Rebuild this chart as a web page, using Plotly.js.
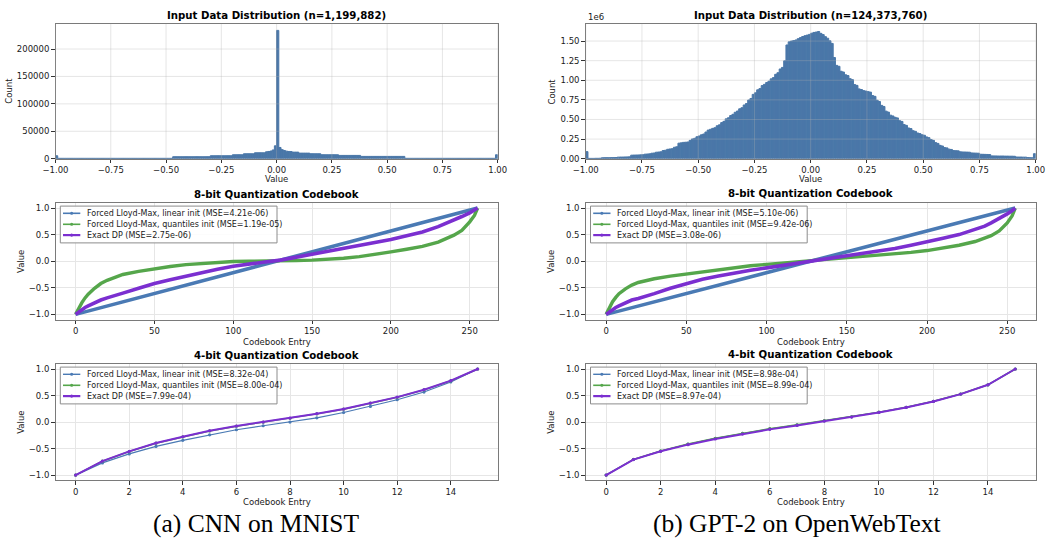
<!DOCTYPE html>
<html><head><meta charset="utf-8">
<script src="https://cdn.plot.ly/plotly-3.0.1.min.js"></script>
<style>html,body{margin:0;padding:0;background:#fff;}#chart{width:1047px;height:541px;}</style>
</head><body><div id="chart"></div>
<script>
// ---------------- DATA ----------------
const histBinStart = -1.0;
const histBinWidth = 0.01;
const histXTicks = [-1, -0.75, -0.5, -0.25, 0, 0.25, 0.5, 0.75, 1];
const mnistYTicks = [0, 50000, 100000, 150000, 200000];
const gptYTicks = [0, 0.25, 0.5, 0.75, 1.0, 1.25, 1.5];

// CNN on MNIST histogram counts (200 bins of width 0.01 from -1 to 1)
const mnistCounts = [
 5400,700,700,700,700,700,700,700,700,700,
 700,700,700,700,700,700,700,700,700,700,
 700,700,700,700,700,700,700,700,700,700,
 700,700,700,700,700,700,700,700,700,700,
 700,700,700,700,700,700,700,700,700,700,
 700,700,700,3600,3600,3600,3600,3600,3600,3600,
 3600,3600,3600,3600,3600,3600,3600,3600,3600,3600,
 5400,5400,5400,5400,5400,5400,5400,5400,5400,5400,
 7200,7200,7200,7200,7200,9000,9000,9000,9000,9000,
 10800,10800,10800,10800,10800,12600,13200,14000,16000,23500,
 234000,20500,16500,15000,13800,13200,13000,12000,12000,12000,
 10200,10200,10200,10200,10200,9000,9000,9000,9000,9000,
 7200,7200,7200,7200,7200,7200,7200,7200,6000,6000,
 6000,6000,6000,6000,6000,6000,6000,6000,4200,4200,
 4200,4200,4200,4200,4200,4200,4200,4200,4200,4200,
 4200,4200,4200,4200,4200,4200,4200,4200,700,700,
 700,700,700,700,700,700,700,700,700,700,
 700,700,700,700,700,700,700,700,700,700,
 700,700,700,700,700,700,700,700,700,700,
 700,700,700,700,700,700,700,700,700,7200
];

// GPT-2 on OpenWebText histogram counts, in millions (200 bins of width 0.01)
const gptCountsM = [
 0.090,0.004,0.004,0.004,0.005,0.005,0.006,0.012,0.013,0.013,
 0.013,0.014,0.014,0.015,0.020,0.021,0.021,0.022,0.023,0.024,
 0.045,0.046,0.047,0.048,0.049,0.050,0.058,0.060,0.062,0.070,
 0.073,0.083,0.085,0.088,0.104,0.108,0.120,0.124,0.128,0.146,
 0.152,0.198,0.202,0.208,0.210,0.213,0.234,0.252,0.260,0.280,
 0.290,0.305,0.315,0.340,0.365,0.375,0.387,0.395,0.420,0.432,
 0.460,0.476,0.508,0.522,0.550,0.566,0.592,0.608,0.636,0.650,
 0.685,0.703,0.748,0.768,0.820,0.840,0.878,0.894,0.932,0.948,
 0.972,0.988,1.018,1.034,1.076,1.096,1.144,1.164,1.248,1.450,
 1.490,1.500,1.506,1.514,1.530,1.544,1.558,1.568,1.576,1.585,
 1.600,1.610,1.615,1.622,1.598,1.582,1.556,1.536,1.503,1.470,
 1.290,1.190,1.178,1.115,1.105,1.070,1.060,1.020,1.008,0.945,
 0.935,0.890,0.882,0.868,0.862,0.855,0.849,0.805,0.795,0.745,
 0.729,0.680,0.666,0.606,0.594,0.555,0.545,0.528,0.520,0.485,
 0.475,0.435,0.425,0.392,0.384,0.357,0.349,0.328,0.320,0.305,
 0.299,0.278,0.268,0.244,0.234,0.205,0.195,0.170,0.162,0.142,
 0.138,0.122,0.118,0.104,0.102,0.100,0.088,0.086,0.085,0.084,
 0.083,0.074,0.072,0.071,0.070,0.057,0.056,0.055,0.054,0.053,
 0.036,0.035,0.035,0.034,0.034,0.034,0.033,0.033,0.032,0.032,
 0.031,0.022,0.021,0.021,0.020,0.020,0.014,0.013,0.012,0.064
];

const methodNames = ['Forced Lloyd-Max, linear init', 'Forced Lloyd-Max, quantiles init', 'Exact DP'];
const mnist8Mse = ['4.21e-06', '1.19e-05', '2.75e-06'];
const gpt8Mse = ['5.10e-06', '9.42e-06', '3.08e-06'];
const mnist4Mse = ['8.32e-04', '8.00e-04', '7.99e-04'];
const gpt4Mse = ['8.98e-04', '8.99e-04', '8.97e-04'];

// 8-bit codebooks (values read at these codebook entries)
const codeIdx8 = [0,2,4,6,8,12,16,20,25,30,40,50,60,70,80,90,100,110,120,130,140,150,160,170,180,190,200,210,220,230,236,240,245,250,253,255];
const mnist8Linear = [-1.000,-0.984,-0.969,-0.953,-0.937,-0.906,-0.875,-0.843,-0.804,-0.765,-0.686,-0.608,-0.529,-0.451,-0.373,-0.294,-0.216,-0.137,-0.059,0.020,0.098,0.176,0.255,0.333,0.412,0.490,0.569,0.647,0.725,0.804,0.851,0.882,0.922,0.961,0.984,1.000];
const mnist8Quantile = [-1.000,-0.88,-0.78,-0.69,-0.62,-0.51,-0.42,-0.36,-0.30,-0.25,-0.19,-0.14,-0.10,-0.065,-0.04,-0.02,-0.005,0.0,0.0,0.005,0.012,0.02,0.035,0.055,0.085,0.125,0.175,0.225,0.28,0.36,0.43,0.49,0.58,0.74,0.86,1.000];
const mnist8DP = [-1.000,-0.95,-0.91,-0.87,-0.84,-0.78,-0.73,-0.69,-0.65,-0.60,-0.51,-0.42,-0.35,-0.28,-0.21,-0.15,-0.095,-0.05,-0.015,0.02,0.075,0.13,0.18,0.235,0.29,0.35,0.41,0.48,0.55,0.65,0.72,0.77,0.84,0.91,0.96,1.000];
const gpt8Linear = [-1.000,-0.984,-0.969,-0.953,-0.937,-0.906,-0.875,-0.843,-0.804,-0.765,-0.686,-0.608,-0.529,-0.451,-0.373,-0.294,-0.216,-0.137,-0.059,0.020,0.098,0.176,0.255,0.333,0.412,0.490,0.569,0.647,0.725,0.804,0.851,0.882,0.922,0.961,0.984,1.000];
const gpt8Quantile = [-1.000,-0.86,-0.76,-0.68,-0.61,-0.52,-0.45,-0.40,-0.36,-0.33,-0.28,-0.24,-0.20,-0.16,-0.12,-0.085,-0.06,-0.035,-0.015,0.01,0.03,0.05,0.075,0.10,0.13,0.165,0.20,0.245,0.30,0.37,0.43,0.48,0.57,0.72,0.85,1.000];
const gpt8DP = [-1.000,-0.95,-0.91,-0.87,-0.84,-0.78,-0.73,-0.70,-0.66,-0.61,-0.51,-0.42,-0.34,-0.28,-0.22,-0.17,-0.125,-0.08,-0.04,0.005,0.045,0.09,0.135,0.18,0.24,0.30,0.36,0.43,0.50,0.59,0.66,0.72,0.80,0.89,0.95,1.000];

// 4-bit codebooks
const codeIdx4 = [0,1,2,3,4,5,6,7,8,9,10,11,12,13,14,15];
const mnist4Linear = [-1.0,-0.77,-0.60,-0.46,-0.345,-0.24,-0.145,-0.07,0.0,0.08,0.18,0.295,0.42,0.566,0.755,1.0];
const mnist4Quantile = [-1.0,-0.738,-0.556,-0.399,-0.28,-0.167,-0.078,-0.003,0.072,0.154,0.242,0.355,0.467,0.607,0.777,1.0];
const mnist4DP = [-1.0,-0.736,-0.553,-0.396,-0.277,-0.164,-0.075,0.0,0.075,0.157,0.245,0.358,0.47,0.61,0.78,1.0];
const gpt4Linear = [-1.0,-0.706,-0.547,-0.418,-0.308,-0.215,-0.128,-0.055,0.024,0.098,0.185,0.278,0.39,0.528,0.702,1.0];
const gpt4Quantile = [-1.0,-0.705,-0.545,-0.415,-0.305,-0.212,-0.125,-0.052,0.026,0.1,0.186,0.279,0.391,0.528,0.702,1.0];
const gpt4DP = [-1.0,-0.708,-0.552,-0.426,-0.32,-0.226,-0.138,-0.063,0.019,0.094,0.182,0.276,0.389,0.527,0.702,1.0];

// ---------------- STYLE / LAYOUT ----------------
const W = 1047, H = 541;
const PX = x => x / W;
const PY = y => 1 - y / H;
const FONT = 'DejaVu Sans, sans-serif';
const HIST_COLOR = '#4a77a8';
const C = ['#4a7ab4', '#55a64b', '#7b2fd0'];
const TXT = '#1a1a1a';

// axes boxes in pixels [left, top, right, bottom]
const boxes = {
  1: [55.5, 23.8, 497.7, 158.7],
  2: [585.7, 23.8, 1035.7, 158.7],
  3: [55.5, 202.7, 497.7, 319.7],
  4: [585.7, 202.7, 1035.7, 319.7],
  5: [55.5, 363.7, 497.7, 480.4],
  6: [585.7, 363.7, 1035.7, 480.4]
};

function axBase(n, isX) {
  const b = boxes[n];
  return {
    domain: isX ? [PX(b[0]), PX(b[2])] : [PY(b[3]), PY(b[1])],
    anchor: (isX ? 'y' : 'x') + (n === 1 ? '' : n),
    showline: true, mirror: true, linecolor: '#7a7a7a', linewidth: 1,
    showgrid: true, gridcolor: '#e6e6e6', gridwidth: 1, zeroline: false,
    ticks: 'outside', ticklen: 3.5, tickwidth: 1, tickcolor: '#333',
    tickfont: {family: FONT, size: 8.5, color: TXT}, fixedrange: true
  };
}

const traces = [];
function histX(counts) { return counts.map((_, i) => histBinStart + (i + 0.5) * histBinWidth); }
traces.push({type: 'bar', x: histX(mnistCounts), y: mnistCounts, width: histBinWidth, xaxis: 'x', yaxis: 'y',
  marker: {color: HIST_COLOR, line: {color: HIST_COLOR, width: 1}}, hoverinfo: 'skip'});
traces.push({type: 'bar', x: histX(gptCountsM), y: gptCountsM, width: histBinWidth, xaxis: 'x2', yaxis: 'y2',
  marker: {color: HIST_COLOR, line: {color: HIST_COLOR, width: 1}}, hoverinfo: 'skip'});

function addLines(n, xs, sets, widths, markers) {
  sets.forEach((ys, k) => {
    traces.push({type: 'scatter', mode: markers ? 'lines+markers' : 'lines', x: xs, y: ys,
      xaxis: 'x' + n, yaxis: 'y' + n,
      line: {color: C[k], width: widths[k]},
      marker: {color: C[k], size: 3.2}, hoverinfo: 'skip'});
  });
}
addLines(3, codeIdx8, [mnist8Linear, mnist8Quantile, mnist8DP], [3.6, 3.4, 3.6], false);
addLines(4, codeIdx8, [gpt8Linear, gpt8Quantile, gpt8DP], [3.6, 3.4, 3.6], false);
addLines(5, codeIdx4, [mnist4Linear, mnist4Quantile, mnist4DP], [1.2, 1.5, 2.0], true);
addLines(6, codeIdx4, [gpt4Linear, gpt4Quantile, gpt4DP], [1.2, 1.5, 2.0], true);

const layout = {
  width: W, height: H, margin: {l: 0, r: 0, t: 0, b: 0},
  paper_bgcolor: '#fff', plot_bgcolor: '#fff', showlegend: false, bargap: 0,
  font: {family: FONT, color: TXT},
  annotations: [], shapes: []
};

// histogram axes
for (const n of [1, 2]) {
  const xa = axBase(n, true), ya = axBase(n, false);
  xa.range = [-1, 1]; xa.tickvals = histXTicks; xa.tickformat = '.2f'; xa.showgrid = false;
  ya.showgrid = false;
  if (n === 1) { ya.range = [0, 246000]; ya.tickvals = mnistYTicks; ya.tickformat = 'd'; }
  else { ya.range = [0, 1.72]; ya.tickvals = gptYTicks; ya.tickformat = '.2f'; }
  layout['xaxis' + (n === 1 ? '' : n)] = xa;
  layout['yaxis' + (n === 1 ? '' : n)] = ya;
  const xr = 'x' + (n === 1 ? '' : n), yr = 'y' + (n === 1 ? '' : n);
  // grid drawn above bars (as in the reference)
  histXTicks.forEach(v => layout.shapes.push({type: 'line', xref: xr, yref: yr + ' domain', x0: v, x1: v, y0: 0, y1: 1,
    layer: 'above', line: {color: 'rgba(176,176,176,0.32)', width: 1}}));
  (n === 1 ? mnistYTicks : gptYTicks).forEach(v => layout.shapes.push({type: 'line', xref: xr + ' domain', yref: yr, x0: 0, x1: 1, y0: v, y1: v,
    layer: 'above', line: {color: 'rgba(176,176,176,0.32)', width: 1}}));
}
// codebook axes
for (const n of [3, 4, 5, 6]) {
  const xa = axBase(n, true), ya = axBase(n, false);
  if (n <= 4) { xa.range = [-12.75, 267.75]; xa.dtick = 50; xa.tick0 = 0; }
  else { xa.range = [-0.75, 15.75]; xa.dtick = 2; xa.tick0 = 0; }
  ya.range = [-1.1, 1.1]; ya.dtick = 0.5; ya.tick0 = 0; ya.tickformat = '.1f';
  layout['xaxis' + n] = xa; layout['yaxis' + n] = ya;
}

function ann(text, x, y, size, opts) {
  layout.annotations.push(Object.assign({text: text, x: PX(x), y: PY(y), xref: 'paper', yref: 'paper',
    showarrow: false, xanchor: 'center', yanchor: 'middle',
    font: {family: FONT, size: size, color: TXT}}, opts || {}));
}
const titleFont = {family: FONT, size: 10.2, color: '#000', weight: 'bold'};
const cxL = (boxes[1][0] + boxes[1][2]) / 2, cxR = (boxes[2][0] + boxes[2][2]) / 2;
ann('Input Data Distribution (n=1,199,882)', cxL, 15.5, 10.2, {font: titleFont});
ann('Input Data Distribution (n=124,373,760)', cxR, 15.5, 10.2, {font: titleFont});
ann('8-bit Quantization Codebook', cxL, 194, 10.2, {font: titleFont});
ann('8-bit Quantization Codebook', cxR, 193.5, 10.2, {font: titleFont});
ann('4-bit Quantization Codebook', cxL, 355, 10.2, {font: titleFont});
ann('4-bit Quantization Codebook', cxR, 354.5, 10.2, {font: titleFont});
ann('Value', cxL, 179, 8.5); ann('Value', cxR, 179, 8.5);
ann('Codebook Entry', cxL, 341.5, 8.5); ann('Codebook Entry', cxR, 341.5, 8.5);
ann('Codebook Entry', cxL, 502.3, 8.5); ann('Codebook Entry', cxR, 502.3, 8.5);
ann('Count', 9.5, (boxes[1][1] + boxes[1][3]) / 2, 8.5, {textangle: -90});
ann('Count', 552.3, (boxes[2][1] + boxes[2][3]) / 2, 8.5, {textangle: -90});
ann('Value', 20.8, (boxes[3][1] + boxes[3][3]) / 2, 8.5, {textangle: -90});
ann('Value', 550.8, (boxes[4][1] + boxes[4][3]) / 2, 8.5, {textangle: -90});
ann('Value', 20.8, (boxes[5][1] + boxes[5][3]) / 2, 8.5, {textangle: -90});
ann('Value', 550.8, (boxes[6][1] + boxes[6][3]) / 2, 8.5, {textangle: -90});
ann('1e6', 586, 17.5, 8.5, {xanchor: 'left'});
const capFont = {family: 'Liberation Serif, serif', size: 25.5, color: '#000'};
ann('(a) CNN on MNIST', 256, 523.5, 25.5, {font: capFont, borderpad: 0});
ann('(b) GPT-2 on OpenWebText', 796.7, 523.5, 25.5, {font: capFont, borderpad: 0});

// custom compact legends (matplotlib style)
function legend(n, mses, widths) {
  const b = boxes[n];
  const L = b[0], T = b[1];
  layout.shapes.push({type: 'rect', xref: 'paper', yref: 'paper', x0: PX(L + 4.8), x1: PX(L + 221.5),
    y0: PY(T + 40.2), y1: PY(T + 3.4), layer: 'above',
    line: {color: '#8c8c8c', width: 1}, fillcolor: 'rgba(255,255,255,0.85)'});
  const rows = [10.6, 21.6, 32.4];
  methodNames.forEach((name, k) => {
    const yy = T + rows[k];
    layout.shapes.push({type: 'line', xref: 'paper', yref: 'paper', x0: PX(L + 7.5), x1: PX(L + 24.8),
      y0: PY(yy), y1: PY(yy), layer: 'above', line: {color: C[k], width: widths[k]}});
    layout.shapes.push({type: 'circle', xref: 'paper', yref: 'paper', x0: PX(L + 14.6), x1: PX(L + 17.7),
      y0: PY(yy + 1.55), y1: PY(yy - 1.55), layer: 'above', line: {width: 0}, fillcolor: C[k]});
    ann(name + ' (MSE=' + mses[k] + ')', L + 29.5, yy, 8, {xanchor: 'left', font: {family: FONT, size: 8, color: TXT}});
  });
}
legend(3, mnist8Mse, [1.6, 1.6, 2.2]);
legend(4, gpt8Mse, [1.6, 1.6, 2.2]);
legend(5, mnist4Mse, [1.4, 1.6, 2.2]);
legend(6, gpt4Mse, [1.4, 1.6, 2.2]);

Plotly.newPlot('chart', traces, layout, {staticPlot: true, displayModeBar: false});
</script>
</body></html>
